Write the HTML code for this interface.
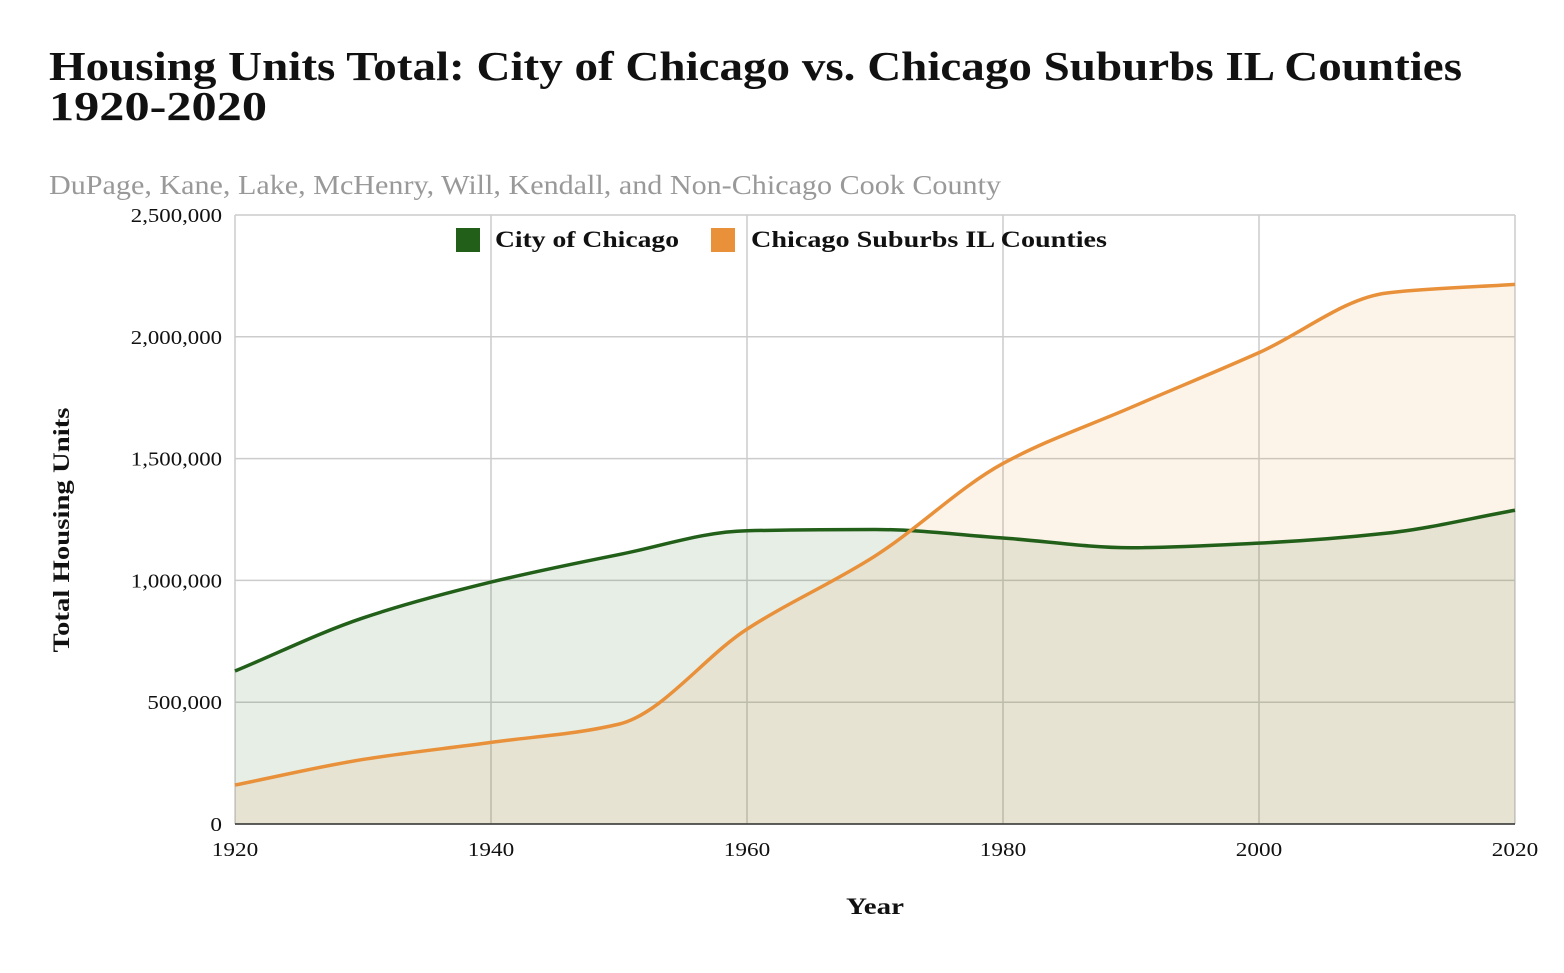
<!DOCTYPE html>
<html><head><meta charset="utf-8"><style>
body{margin:0;background:#fff;font-family:"Liberation Serif",serif;}
svg text{font-family:"Liberation Serif",serif;}
</style></head><body>
<svg id="c" width="1564" height="968">
<text x="49" y="80" font-size="41" font-weight="bold" fill="#111" textLength="1413" lengthAdjust="spacingAndGlyphs">Housing Units Total: City of Chicago vs. Chicago Suburbs IL Counties</text>
<text x="49" y="120" font-size="41" font-weight="bold" fill="#111" textLength="218" lengthAdjust="spacingAndGlyphs">1920-2020</text>
<text x="49" y="194" font-size="27" fill="#999" textLength="952" lengthAdjust="spacingAndGlyphs">DuPage, Kane, Lake, McHenry, Will, Kendall, and Non-Chicago Cook County</text>
<g id="grid"></g><g id="areas"></g><g id="lines"></g><g id="axes"></g>
<text transform="translate(69,530) rotate(-90)" text-anchor="middle" font-size="23" font-weight="bold" fill="#111" textLength="245" lengthAdjust="spacingAndGlyphs">Total Housing Units</text>
<text x="846" y="914" font-size="23" font-weight="bold" fill="#111" textLength="58" lengthAdjust="spacingAndGlyphs">Year</text>
<g>
<rect x="456" y="228" width="24" height="24" fill="#22601a"/>
<text x="495" y="247" font-size="23" font-weight="bold" fill="#111" textLength="184" lengthAdjust="spacingAndGlyphs">City of Chicago</text>
<rect x="711" y="228" width="24" height="24" fill="#e8913a"/>
<text x="751" y="247" font-size="23" font-weight="bold" fill="#111" textLength="356" lengthAdjust="spacingAndGlyphs">Chicago Suburbs IL Counties</text>
</g>
</svg>
<script>
const years=[1920,1930,1940,1950,1960,1970,1980,1990,2000,2010,2020];
const chicago=[628000,846000,993000,1106000,1204000,1209000,1174000,1134000,1153000,1194000,1288000];
const suburbs=[160000,265000,335000,410000,800000,1100000,1480000,1710000,1935000,2180000,2215000];
const yTicks=[0,500000,1000000,1500000,2000000,2500000];
const xTicks=[1920,1940,1960,1980,2000,2020];
const X0=235,X1=1515,Y0=824,Y1=215;
const sx=v=>X0+(v-1920)/100*(X1-X0);
const sy=v=>Y0-v/2500000*(Y0-Y1);
const NS='http://www.w3.org/2000/svg';
function mk(tag,attrs,parent){const e=document.createElementNS(NS,tag);for(const k in attrs)e.setAttribute(k,attrs[k]);document.getElementById(parent).appendChild(e);return e;}
function tlen(s){let w=0;for(const ch of s)w+=(ch===','?5:11.6);return w;}
yTicks.forEach(t=>{const l=mk('line',{x1:X0,x2:X1,y1:sy(t),y2:sy(t),stroke:'#ccc','stroke-width':1.5},'grid');


const s=t.toLocaleString('en-US');
const tx=mk('text',{x:222-tlen(s),y:sy(t)+7,'font-size':20,fill:'#111',textLength:tlen(s),lengthAdjust:'spacingAndGlyphs'},'axes');tx.textContent=s;

});
xTicks.forEach(t=>{const l=mk('line',{x1:sx(t),x2:sx(t),y1:Y1,y2:Y0,stroke:'#ccc','stroke-width':1.5},'grid');


const s=String(t);
const tx=mk('text',{x:sx(t)-tlen(s)/2,y:856,'font-size':20,fill:'#111',textLength:tlen(s),lengthAdjust:'spacingAndGlyphs'},'axes');tx.textContent=s;

});
const ax=mk('line',{x1:X0,x2:X1,y1:Y0,y2:Y0,stroke:'#333','stroke-width':1.5},'axes');


function mono(xs,ys){const n=xs.length,d=[],m=[];for(let i=0;i<n-1;i++)d.push((ys[i+1]-ys[i])/(xs[i+1]-xs[i]));
m[0]=d[0];m[n-1]=d[n-2];for(let i=1;i<n-1;i++){m[i]=d[i-1]*d[i]<=0?0:2/(1/d[i-1]+1/d[i]);}
let p=`M${xs[0]},${ys[0]}`;for(let i=0;i<n-1;i++){const h=(xs[i+1]-xs[i])/3;p+=` C${xs[i]+h},${ys[i]+m[i]*h} ${xs[i+1]-h},${ys[i+1]-m[i+1]*h} ${xs[i+1]},${ys[i+1]}`;}return p;}
function series(vals,col,fill,name){const xs=years.map(sx),ys=vals.map(sy);const p=mono(xs,ys);
const a=mk('path',{d:p+` L${X1},${Y0} L${X0},${Y0} Z`,fill:fill},'areas');


const l=mk('path',{d:p,fill:'none',stroke:col,'stroke-width':3.5},'lines');

}
series(chicago,'#22601a','rgba(34,96,26,0.11)','chicago');
series(suburbs,'#e8913a','rgba(232,145,58,0.11)','suburbs');
</script>
</body></html>
